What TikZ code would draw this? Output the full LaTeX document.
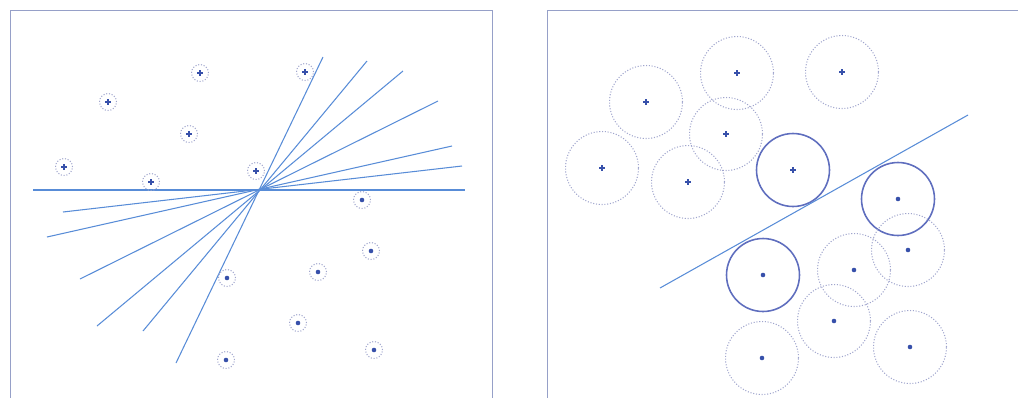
\documentclass[tikz,border=0pt]{standalone}
\usepackage{tikz}
\usetikzlibrary{calc}
\definecolor{linblue}{RGB}{88,140,215}
\definecolor{ringgray}{RGB}{160,165,205}
\definecolor{markblue}{RGB}{55,80,170}
\definecolor{framegray}{RGB}{150,160,200}
\definecolor{svblue}{RGB}{95,110,190}

\begin{document}
\begin{tikzpicture}[x=0.02cm,y=-0.02cm,
	ring/.style={circle,draw=ringgray,densely dotted,line width=0.6pt,inner sep=0pt,minimum size=0.34cm},
	bigring/.style={ring,minimum size=1.46cm},
	svring/.style={bigring,solid,draw=svblue,line width=0.9pt},
	plusmark/.style={path picture={\draw[markblue,solid,line width=0.7pt]
		($(path picture bounding box.center)+(-1.7pt,0)$) -- ++(3.4pt,0)
		($(path picture bounding box.center)+(0,-1.7pt)$) -- ++(0,3.4pt);}},
	dotmark/.style={path picture={\fill[markblue] (path picture bounding box.center) circle (1.3pt);}},
	sep/.style={draw=linblue,line width=0.6pt}]
	\useasboundingbox (0,0) rectangle (1018,397);
	\clip (0,0) rectangle (1018,397);
	% frames
	\draw[framegray,line width=0.5pt] (10,420)--(10,10)--(492,10)--(492,420);
	\draw[framegray,line width=0.5pt] (547,420)--(547,10)--(1030,10);

	% left: lines through one point
	\coordinate (c) at (257,190);
	\coordinate (h1) at (33,190);   \coordinate (h2) at (465,190);
	\coordinate (u1) at (323,57);   \coordinate (d1) at (176,363);
	\coordinate (u2) at (367,61);   \coordinate (d2) at (143,331);
	\coordinate (u3) at (403,71);   \coordinate (d3) at (97,326);
	\coordinate (u4) at (438,101);  \coordinate (d4) at (80,279);
	\coordinate (u5) at (452,146);  \coordinate (d5) at (47,237);
	\coordinate (u6) at (462,166);  \coordinate (d6) at (63,212);
	\draw[sep] (h1)--(h2);
	\draw[sep] (d1)--(u1);
	\draw[sep] (d2)--(u2);
	\draw[sep] (d3)--(u3);
	\draw[sep] (d4)--(u4);
	\draw[sep] (d5)--(u5);
	\draw[sep] (d6)--(u6);

	% left: points
	\node[ring,plusmark] (lp1) at (200,73) {};
	\node[ring,plusmark] (lp2) at (305,72) {};
	\node[ring,plusmark] (lp3) at (108,102) {};
	\node[ring,plusmark] (lp4) at (189,134) {};
	\node[ring,plusmark] (lp5) at (64,167) {};
	\node[ring,plusmark] (lp6) at (151,182) {};
	\node[ring,plusmark] (lp7) at (256,171) {};
	\node[ring,dotmark] (ln1) at (362,200) {};
	\node[ring,dotmark] (ln2) at (371,251) {};
	\node[ring,dotmark] (ln3) at (318,272) {};
	\node[ring,dotmark] (ln4) at (227,278) {};
	\node[ring,dotmark] (ln5) at (298,323) {};
	\node[ring,dotmark] (ln6) at (374,350) {};
	\node[ring,dotmark] (ln7) at (226,360) {};

	% right: widest margin
	\node[bigring,plusmark] (rp1) at (737,73) {};
	\node[bigring,plusmark] (rp2) at (842,72) {};
	\node[bigring,plusmark] (rp3) at (646,102) {};
	\node[bigring,plusmark] (rp4) at (726,134) {};
	\node[bigring,plusmark] (rp5) at (602,168) {};
	\node[bigring,plusmark] (rp6) at (688,182) {};
	\node[svring,plusmark] (rp7) at (793,170) {};
	\node[svring,dotmark] (rn1) at (898,199) {};
	\node[bigring,dotmark] (rn2) at (908,250) {};
	\node[bigring,dotmark] (rn3) at (854,270) {};
	\node[svring,dotmark] (rn4) at (763,275) {};
	\node[bigring,dotmark] (rn5) at (834,321) {};
	\node[bigring,dotmark] (rn6) at (910,347) {};
	\node[bigring,dotmark] (rn7) at (762,358) {};
	\coordinate (m1) at (660,288);
	\coordinate (m2) at (968,115);
	\draw[sep] (m1)--(m2);
\end{tikzpicture}
\end{document}
